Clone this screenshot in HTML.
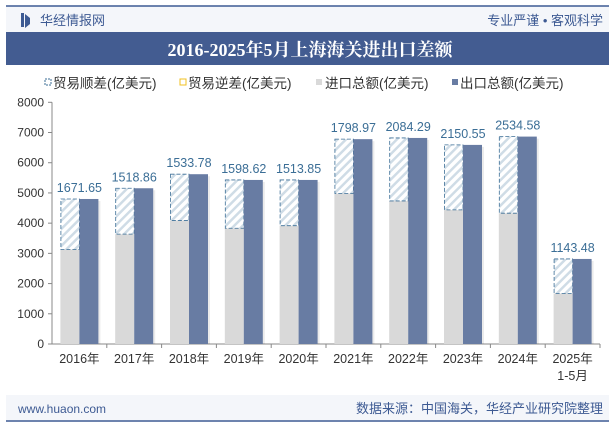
<!DOCTYPE html>
<html><head><meta charset="utf-8"><style>
body{margin:0;width:615px;height:427px;overflow:hidden;background:#fff;font-family:"Liberation Sans","Noto Sans CJK SC",sans-serif;}
</style></head><body>
<svg id="c" width="615" height="427" xmlns="http://www.w3.org/2000/svg" font-family="Liberation Sans, Noto Sans CJK SC, sans-serif">
<defs><pattern id="hatch" patternUnits="userSpaceOnUse" width="6" height="6" patternTransform="rotate(45)"><rect width="6" height="6" fill="#fff"/><rect width="2.5" height="6" fill="#cfdce6"/></pattern></defs>
<rect x="6" y="6" width="603" height="26" fill="#f4f6fa"/>
<line x1="6" y1="6" x2="609" y2="6" stroke="#3d5a93" stroke-width="1.5"/>
<rect x="21" y="13" width="3" height="14" fill="#3d5a93"/>
<path d="M25,14 L30,18 L30,24 L25,28 Z" fill="#3d5a93"/>
<text x="40" y="25" font-size="13" fill="#3d5a93">华经情报网</text>
<text x="603" y="25" font-size="13" fill="#3d5a93" text-anchor="end">专业严谨 • 客观科学</text>
<rect x="6" y="32" width="603" height="33" fill="#435c91"/>
<text x="310" y="56" font-size="18" font-weight="bold" fill="#fff" text-anchor="middle" font-family="Liberation Serif, Noto Serif CJK SC, serif">2016-2025年5月上海海关进出口差额</text>
<g font-size="13.5" fill="#333">
<rect x="45" y="79" width="6" height="6" fill="none" stroke="#3b6e96" stroke-dasharray="2,1"/>
<text x="53" y="88">贸易顺差(亿美元)</text>
<rect x="180" y="79" width="6" height="6" fill="none" stroke="#f0c020"/>
<text x="188" y="88">贸易逆差(亿美元)</text>
<rect x="316" y="79" width="6" height="6" fill="#d9d9d9"/>
<text x="325" y="88">进口总额(亿美元)</text>
<rect x="452" y="79" width="6" height="6" fill="#687ca3"/>
<text x="460" y="88">出口总额(亿美元)</text>
</g>
<g id="plot"></g>
<rect x="6" y="395" width="603" height="25" fill="#f4f6fa"/>
<line x1="6" y1="421" x2="609" y2="421" stroke="#3d5a93" stroke-width="1.5"/>
<text x="18" y="413" font-size="12" fill="#3d5a93">www.huaon.com</text>
<text x="603" y="413" font-size="13" fill="#3d5a93" text-anchor="end">数据来源：中国海关，华经产业研究院整理</text>
</svg>
<script>
const categories=["2016年","2017年","2018年","2019年","2020年","2021年","2022年","2023年","2024年","2025年"];
const exportValues=[4800,5155,5620,5430,5430,6780,6820,6590,6865,2815];
const surplusValues=[1671.65,1518.86,1533.78,1598.62,1513.85,1798.97,2084.29,2150.55,2534.58,1143.48];
const yTicks=[0,1000,2000,3000,4000,5000,6000,7000,8000];
const NS="http://www.w3.org/2000/svg";
const g=document.getElementById('plot');
const x0=52,x1=600,yb=344,yt=102.3,ymax=8000;
const step=(x1-x0)/categories.length;
const y=v=>yb-(v/ymax)*(yb-yt);
const cx=i=>x0+step*(i+0.5);
function el(t,a){const e=document.createElementNS(NS,t);for(const k in a)e.setAttribute(k,a[k]);g.appendChild(e);return e;}
let ax=el('line',{x1:x0,y1:yt,x2:x0,y2:yb,stroke:'#888'});


yTicks.forEach(v=>{
 let tk=el('line',{x1:x0-4,y1:y(v),x2:x0,y2:y(v),stroke:'#888'});
 
 
 let t=el('text',{x:x0-8,y:y(v)+4,'font-size':12,fill:'#333','text-anchor':'end'});
 t.textContent=v;
 
 
});
let xa=el('line',{x1:x0,y1:yb,x2:x1,y2:yb,stroke:'#888'});


categories.forEach((c,i)=>{
 const c0=cx(i),w=19;
 const ex=exportValues[i],im=ex-surplusValues[i];
 let tk=el('line',{x1:x0+step*(i+1),y1:yb,x2:x0+step*(i+1),y2:yb+4,stroke:'#888'});
 
 
 let ib=el('rect',{x:c0-w,y:y(im),width:w,height:yb-y(im),fill:'#d9d9d9'});
 
 
 let sb=el('rect',{x:c0-w+0.5,y:y(ex),width:w-0.5,height:y(im)-y(ex),fill:'url(#hatch)',stroke:'#3b6e96','stroke-dasharray':'4,2','stroke-width':0.8});
 
 
 let sh=el('rect',{x:c0+2,y:y(ex)+2,width:w,height:yb-y(ex)-2,fill:'#000',opacity:0.08});
 
 
 let eb=el('rect',{x:c0,y:y(ex),width:w,height:yb-y(ex),fill:'#687ca3'});
 
 
 let vl=el('text',{x:c0,y:y(ex)-7,'font-size':12.5,fill:'#3b6e96','text-anchor':'middle'});
 vl.textContent=surplusValues[i].toFixed(2);
 
 
 let xl=el('text',{x:c0,y:yb+19,'font-size':12.5,fill:'#333','text-anchor':'middle'});
 xl.textContent=c;
 
 
 if(i===categories.length-1){
  let x2=el('text',{x:c0,y:yb+36,'font-size':12.5,fill:'#333','text-anchor':'middle'});
  x2.textContent='1-5月';
  
  
 }
});
</script>
</body></html>
